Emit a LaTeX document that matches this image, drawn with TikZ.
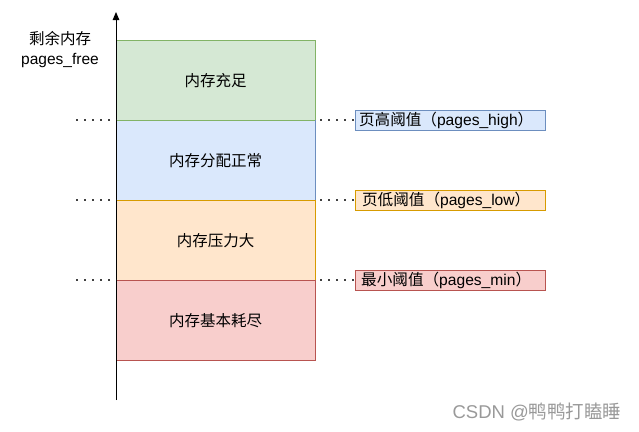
\documentclass[tikz,border=0pt]{standalone}
\usepackage{fontspec}
\setmainfont{Liberation Sans}
\newfontfamily\cjk{Noto Sans CJK SC}
\usetikzlibrary{arrows.meta}
\definecolor{gfill}{HTML}{D5E8D4}\definecolor{gline}{HTML}{82B366}
\definecolor{bfill}{HTML}{DAE8FC}\definecolor{bline}{HTML}{6C8EBF}
\definecolor{ofill}{HTML}{FFE6CC}\definecolor{oline}{HTML}{D79B00}
\definecolor{rfill}{HTML}{F8CECC}\definecolor{rline}{HTML}{B85450}
\begin{document}
\begin{tikzpicture}[x=1pt,y=-1pt,
  band/.style={minimum width=199pt,minimum height=80pt,inner sep=0pt,anchor=north west,font=\fontsize{15.5}{17}\selectfont\cjk},
  tag/.style={minimum height=20pt,text width=190pt,inner xsep=0pt,inner ysep=0pt,align=center,anchor=west,font=\fontsize{15.6}{17}\selectfont},
  dots/.style={line width=1.6pt,dash pattern=on 1.6pt off 6.4pt,black!75}]
\useasboundingbox (0,0) rectangle (639,431);
\node[band,fill=gfill,draw=gline] (g) at (116,40) {内存充足};
\node[band,fill=bfill,draw=bline] (b) at (116,120) {内存分配正常};
\node[band,fill=ofill,draw=oline] (o) at (116,200) {内存压力大};
\node[band,fill=rfill,draw=rline] (r) at (116,280) {内存基本耗尽};
\draw[gline] (g.south west) -- (g.south east);
\draw[oline] (o.north west) -- (o.north east);
\draw[rline] (r.north west) -- (r.north east);
\coordinate (bot) at (116,400);
\coordinate (top) at (116,12);
\draw[line width=1pt,-{Triangle[length=8pt,width=6.5pt]}] (bot) -- (top);
\node[font=\fontsize{15.5}{20}\selectfont,align=center] (ylab) at (60,50) {{\cjk 剩余内存}\\pages\_free};
\node[tag,fill=bfill,draw=bline] (hi) at (355,120) {\hspace*{-8pt}{\cjk 页高阈值（}pages\_high{\cjk ）}};
\node[tag,fill=ofill,draw=oline] (lo) at (355,200) {\hspace*{-8pt}{\cjk 页低阈值（}pages\_low{\cjk ）}};
\node[tag,fill=rfill,draw=rline] (mi) at (355,280) {\hspace*{-8pt}{\cjk 最小阈值（}pages\_min{\cjk ）}};
\coordinate (l1) at (76,120);\coordinate (l2) at (76,200);\coordinate (l3) at (76,280);
\draw[dots] (l1) -- (b.north west);
\draw[dots] (l2) -- (o.north west);
\draw[dots] (l3) -- (r.north west);
\draw[dots] ([xshift=5pt]b.north east) -- (hi.west);
\draw[dots] ([xshift=5pt]o.north east) -- (lo.west);
\draw[dots] ([xshift=5pt]r.north east) -- (mi.west);
\node[font=\fontsize{18.5}{20}\selectfont,text=black!40,anchor=east] (wm) at (625,412) {CSDN @{\cjk 鸭鸭打瞌睡}};
\end{tikzpicture}
\end{document}
